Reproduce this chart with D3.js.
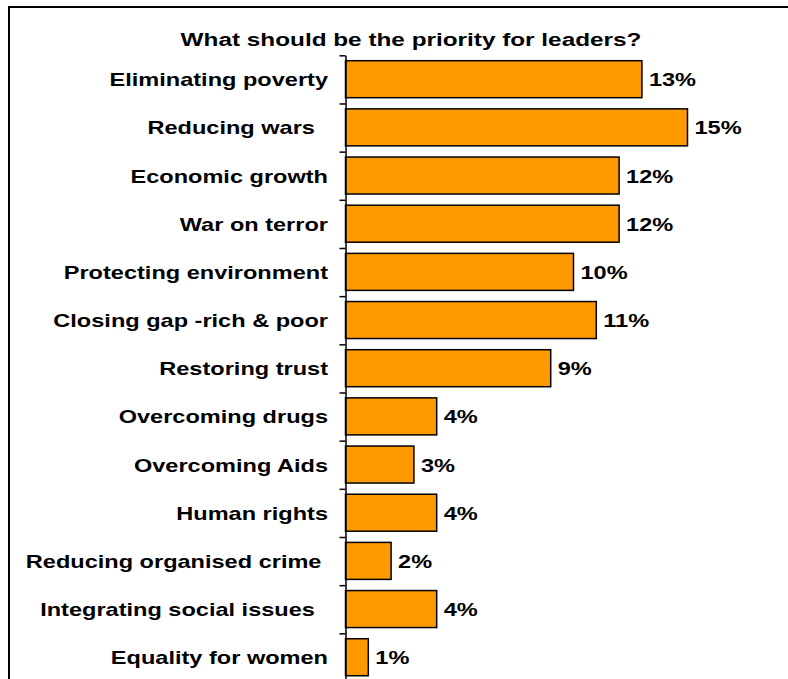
<!DOCTYPE html>
<html>
<head>
<meta charset="utf-8">
<script src="https://cdn.jsdelivr.net/npm/d3@7"></script>
<style>
  html, body { margin: 0; padding: 0; background: #fff; }
  svg { display: block; }
  text { font-family: "Liberation Sans", Arial, sans-serif; font-weight: bold; fill: #000; white-space: pre; }
</style>
</head>
<body>
<svg id="chart" width="788" height="679" xml:space="preserve"></svg>
<script>
const title = "What should be the priority for leaders?";
const categories = [
  "Eliminating poverty",
  "Reducing wars  ",
  "Economic growth",
  "War on terror",
  "Protecting environment",
  "Closing gap -rich & poor",
  "Restoring trust",
  "Overcoming drugs",
  "Overcoming Aids",
  "Human rights",
  "Reducing organised crime ",
  "Integrating social issues  ",
  "Equality for women"
];
const values = [13, 15, 12, 12, 10, 11, 9, 4, 3, 4, 2, 4, 1];
const valueLabels = ["13%", "15%", "12%", "12%", "10%", "11%", "9%", "4%", "3%", "4%", "2%", "4%", "1%"];

const svg = d3.select("#chart");
const W = 788, H = 679;
const axisX = 345.5;
const plotTop = 55.3, step = 48.17;
const plotBottom = plotTop + step * categories.length;
const sx = 1.28;

// frame (top and left)
svg.append("line").attr("x1", 9).attr("y1", 7).attr("x2", W).attr("y2", 7)
  .attr("stroke", "#000").attr("stroke-width", 2);
svg.append("line").attr("x1", 9).attr("y1", 6).attr("x2", 9).attr("y2", H)
  .attr("stroke", "#000").attr("stroke-width", 2);

const x = d3.scaleLinear().domain([0, 15]).range([axisX, axisX + 22.8 * 15]);
const y = d3.scaleBand().domain(d3.range(categories.length))
  .range([plotTop, plotTop + step * (categories.length - 0.232 + 0.224)])
  .paddingInner(0.232).paddingOuter(0.112);

// title
svg.append("text")
  .attr("transform", `translate(411,45.5) scale(1.33,1)`)
  .attr("text-anchor", "middle")
  .attr("font-size", 18.3)
  .text(title);

// bars
svg.append("g").selectAll("rect").data(values).join("rect")
  .attr("x", x(0))
  .attr("y", (d, i) => y(i))
  .attr("width", d => x(d) - x(0))
  .attr("height", y.bandwidth())
  .attr("fill", "#FF9900")
  .attr("stroke", "#000")
  .attr("stroke-width", 1.5);

// axis with ticks at category boundaries
const yb = d3.scaleLinear().domain([0, categories.length]).range([plotTop, plotBottom]);
const axis = svg.append("g").attr("transform", `translate(${axisX},0)`)
  .call(d3.axisLeft(yb).tickValues(d3.range(categories.length + 1)).tickFormat("").tickSize(6).tickSizeOuter(0));
axis.selectAll("path, line").attr("stroke", "#000").attr("stroke-width", 1.5);

// category labels
svg.append("g").selectAll("text").data(categories).join("text")
  .attr("transform", (d, i) => `translate(328,${y(i) + y.bandwidth() / 2 + 7}) scale(${sx},1)`)
  .attr("text-anchor", "end")
  .attr("font-size", 18.4)
  .text(d => d);

// value labels
svg.append("g").selectAll("text").data(values).join("text")
  .attr("transform", (d, i) => `translate(${x(d) + 7},${y(i) + y.bandwidth() / 2 + 7}) scale(${sx},1)`)
  .attr("text-anchor", "start")
  .attr("font-size", 18.4)
  .text((d, i) => valueLabels[i]);
</script>
</body>
</html>
